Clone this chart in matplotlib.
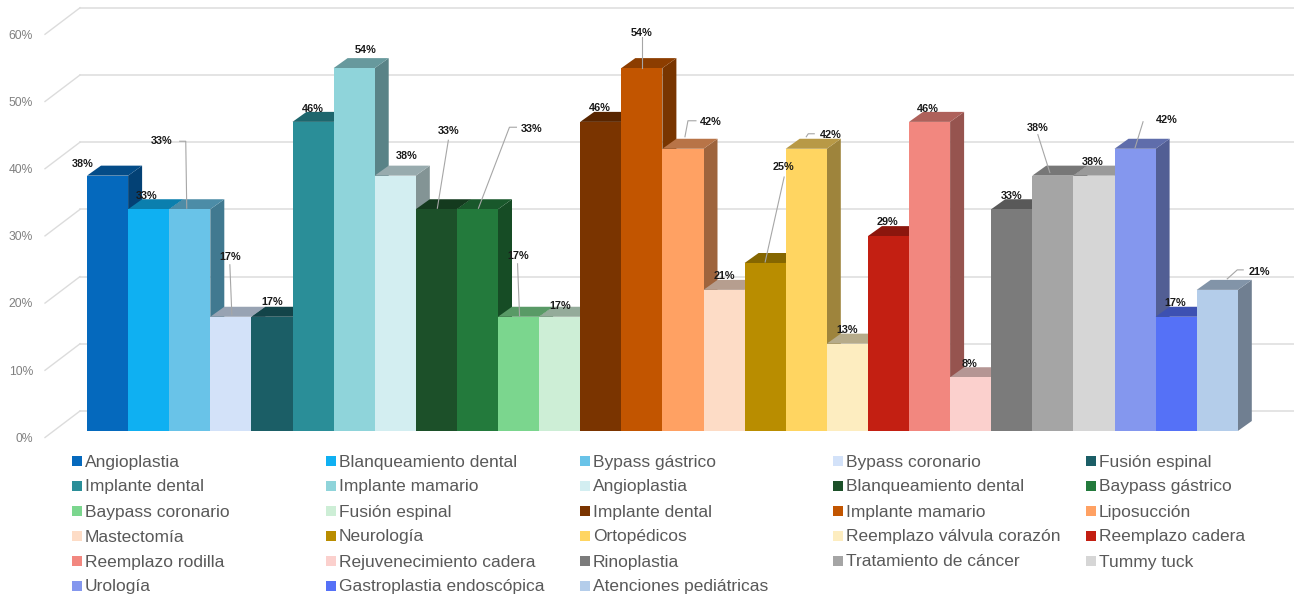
import matplotlib
matplotlib.use("Agg")
import matplotlib.pyplot as plt
from matplotlib.colors import to_rgb
from matplotlib.patches import Polygon

plt.rcParams['font.family'] = ['Liberation Sans', 'DejaVu Sans']

categories = ['Angioplastia', 'Blanqueamiento dental', 'Bypass gástrico', 'Bypass coronario', 'Fusión espinal',
              'Implante dental', 'Implante mamario', 'Angioplastia', 'Blanqueamiento dental', 'Baypass gástrico',
              'Baypass coronario', 'Fusión espinal', 'Implante dental', 'Implante mamario', 'Liposucción',
              'Mastectomía', 'Neurología', 'Ortopédicos', 'Reemplazo válvula corazón', 'Reemplazo cadera',
              'Reemplazo rodilla', 'Rejuvenecimiento cadera', 'Rinoplastia', 'Tratamiento de cáncer', 'Tummy tuck',
              'Urología', 'Gastroplastia endoscópica', 'Atenciones pediátricas']
values = [38, 33, 33, 17, 17, 46, 54, 38, 33, 33, 17, 17, 46, 54, 42, 21, 25, 42, 13, 29, 46, 8, 33, 38, 38, 42, 17, 21]
colors = ['#0569bd', '#0fb0f2', '#69c3e8', '#d3e2f9', '#1b5e66', '#2a8e98', '#8fd4da', '#d3eef1', '#1c5029', '#237a3c',
          '#7bd68e', '#cdeed6', '#7a3400', '#c25500', '#ffa163', '#fddcc6', '#b98d00', '#ffd561', '#fdedc0', '#c31f12',
          '#f2877f', '#fbd0cd', '#7b7b7b', '#a5a5a5', '#d6d6d6', '#8497ee', '#5571f7', '#b4cdea']
y_ticks = [0, 10, 20, 30, 40, 50, 60]

# label offset from the top of each bar in pixels
label_offsets = [(-25, 12), (-2, 13), (-28, 68), (-1, 60), (0, 15), (0, 13), (11, 18), (11, 20), (12, 78), (54, 80),
                 (0, 61), (1, 11), (-1, 14), (0, 35), (28, 27), (0, 14), (18, 96), (24, 14), (0, 14), (-1, 14),
                 (-2, 13), (-1, 13), (0, 13), (-15, 48), (-1, 14), (32, 29), (-1, 14), (42, 18)]
# leader lines, same pixel offsets from the bar top
leaders = {2: [(-3, 1), (-4, 68), (-10, 68)], 3: [(1, 2), (-1, 52)], 8: [(1, 1), (12, 69)],
           9: [(1, 1), (32, 82), (39, 82)], 10: [(1, 1), (-1, 53)], 13: [(0, 0), (0, 31)],
           14: [(2, 12), (5, 28), (13, 28)], 16: [(0, 1), (19, 86)], 17: [(0, 12), (2, 15), (8, 15)],
           23: [(-3, 3), (-15, 41)], 25: [(0, 1), (8, 27)], 27: [(10, 11), (20, 20), (26, 20)]}

W, H = 1294, 599
BAR_W = 41.1    # pixels per bar
PX_PCT = 6.72   # pixels per 1%
X0, Y0 = 87, 431


def px_x(px):
    return (px - X0) / BAR_W


def px_y(py):
    return (Y0 - py) / PX_PCT


def shade(color, f):
    return tuple(c * f for c in to_rgb(color))


fig = plt.figure(figsize=(W / 100, H / 100), dpi=100)
ax = fig.add_axes([0, 0, 1, 1])
ax.set_xlim(px_x(0), px_x(W))
ax.set_ylim(px_y(H), px_y(0))
ax.axis('off')

# back wall grid and the diagonal floor lines
for t in y_ticks:
    back = t + 20 / PX_PCT
    front = t - 6.5 / PX_PCT
    ax.plot([px_x(80), px_x(W)], [back, back], color='#dcdcdc', lw=1.1, zorder=1)
    ax.plot([px_x(45), px_x(80)], [front, back], color='#dcdcdc', lw=1.0, zorder=1)
    ax.text(px_x(33), front - 0.2, str(t) + '%', ha='right', va='center', fontsize=8.7, color='#808080')

dx = 14 / BAR_W
dy = 10 / PX_PCT
for i in range(len(values)):
    v = values[i]
    z = 2 + i
    side = Polygon([(i + 1, 0), (i + 1 + dx, dy), (i + 1 + dx, v + dy), (i + 1, v)], fc=shade(colors[i], 0.62), ec='none', zorder=z)
    top = Polygon([(i, v), (i + dx, v + dy), (i + 1 + dx, v + dy), (i + 1, v)], fc=shade(colors[i], 0.72), ec='none', zorder=z)
    ax.add_patch(side)
    ax.add_patch(top)
    ax.bar(i + 0.5, v, width=1.0, color=colors[i], linewidth=0, zorder=z + 0.5)

for i in leaders:
    xs = [i + 0.5 + p[0] / BAR_W for p in leaders[i]]
    ys = [values[i] + p[1] / PX_PCT for p in leaders[i]]
    ax.plot(xs, ys, color='#a6a6a6', lw=0.8, zorder=49)

for i in range(len(values)):
    ox, oy = label_offsets[i]
    ax.annotate(str(values[i]) + '%', (i + 0.5, values[i]), xytext=(ox, oy), textcoords='offset pixels',
                ha='center', va='center', fontsize=7.8, fontweight='bold', color='#1a1a1a', zorder=50)

# legend, filled row by row
col_x = [72, 326, 580, 833, 1086]
row_y = [461, 486, 511, 536, 561, 586]
for i in range(len(categories)):
    r, c = divmod(i, 5)
    ax.plot(px_x(col_x[c] + 5), px_y(row_y[r]), marker='s', ms=6.5, mew=0, color=colors[i], zorder=60)
    ax.text(px_x(col_x[c] + 13), px_y(row_y[r] + 1), categories[i], ha='left', va='center', fontsize=12.5, color='#595959')

fig.savefig('out.png', dpi=100)
